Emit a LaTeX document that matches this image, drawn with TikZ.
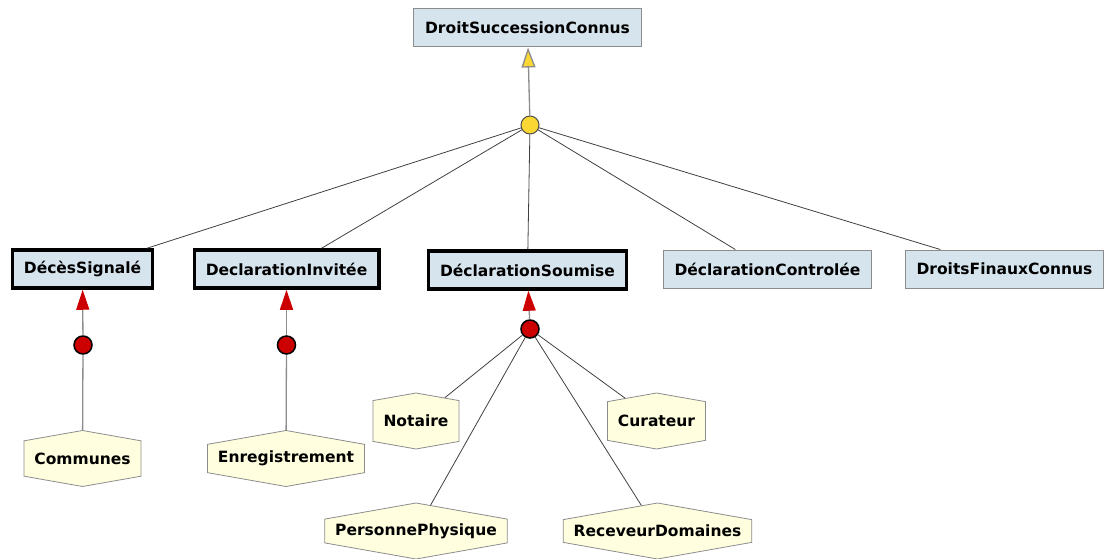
\documentclass[tikz,border=0pt]{standalone}
\usepackage{fontspec}
\setmainfont{DejaVu Sans}
\usepackage{xcolor}
\usepackage{tikz}
\definecolor{stateblue}{RGB}{214, 228, 238}
\definecolor{actorcream}{RGB}{255, 255, 224}
\definecolor{dotyellow}{RGB}{250, 215, 50}
\definecolor{dotred}{RGB}{204, 0, 0}
\definecolor{edgegray}{RGB}{140, 140, 140}
\usetikzlibrary{shapes.symbols, arrows.meta, positioning}

\begin{document}
\begin{tikzpicture}[x=1pt, y=-1pt,
    every node/.style={font=\fontsize{15.5}{18}\selectfont\bfseries},
    state/.style={draw=edgegray, fill=stateblue, line width=1pt, inner xsep=11.5pt, minimum height=38pt},
    keystate/.style={state, draw=black, line width=3.5pt},
    actor/.style={signal, signal to=north and south, signal pointer angle=160, draw=edgegray, fill=actorcream, line width=0.8pt, inner xsep=10.5pt, minimum height=56pt},
    yellowdot/.style={circle, draw=black!70, fill=dotyellow, line width=1pt, minimum size=18pt, inner sep=0pt},
    reddot/.style={circle, draw=black, fill=dotred, line width=1.5pt, minimum size=18pt, inner sep=0pt},
    link/.style={draw=black!75, line width=0.8pt},
    feed/.style={draw=edgegray, line width=1.3pt}]
    \useasboundingbox (0,0) rectangle (1108,559);

    \node[state] (droit) at (527.5,28) {DroitSuccessionConnus};
    \node[keystate] (deces) at (82.5,269) {DécèsSignalé};
    \node[keystate] (invitee) at (286.5,269) {DeclarationInvitée};
    \node[keystate] (soumise) at (527.5,270) {DéclarationSoumise};
    \node[state] (controlee) at (767.5,269) {DéclarationControlée};
    \node[state] (finaux) at (1004.5,269) {DroitsFinauxConnus};

    \node[yellowdot] (join) at (530,125) {};
    \node[reddot] (rdeces) at (83,345) {};
    \node[reddot] (rinvitee) at (286.5,345) {};
    \node[reddot] (rsoumise) at (530,329) {};

    \node[actor] (communes) at (82.5,458.5) {Communes};
    \node[actor] (enreg) at (286,458.5) {Enregistrement};
    \node[actor] (notaire) at (416,421) {Notaire};
    \node[actor] (curateur) at (656.5,421) {Curateur};
    \node[actor] (personne) at (416,531) {PersonnePhysique};
    \node[actor] (receveur) at (657.5,531) {ReceveurDomaines};

    \draw[feed, -{Triangle[length=20pt, width=14pt, fill=dotyellow]}] (join) -- (droit);
    \foreach \s in {deces, invitee, soumise, controlee, finaux}
        \draw[link] (join) -- (\s);

    \draw[feed, -{Triangle[length=20pt, width=13pt, color=dotred]}] (rdeces) -- (deces);
    \draw[feed, -{Triangle[length=20pt, width=13pt, color=dotred]}] (rinvitee) -- (invitee);
    \draw[feed, -{Triangle[length=20pt, width=13pt, color=dotred]}] (rsoumise) -- (soumise);
    \draw[feed] (rdeces) -- (communes);
    \draw[feed] (rinvitee) -- (enreg);
    \foreach \a in {notaire, curateur, personne, receveur}
        \draw[link] (rsoumise) -- (\a);
\end{tikzpicture}
\end{document}
